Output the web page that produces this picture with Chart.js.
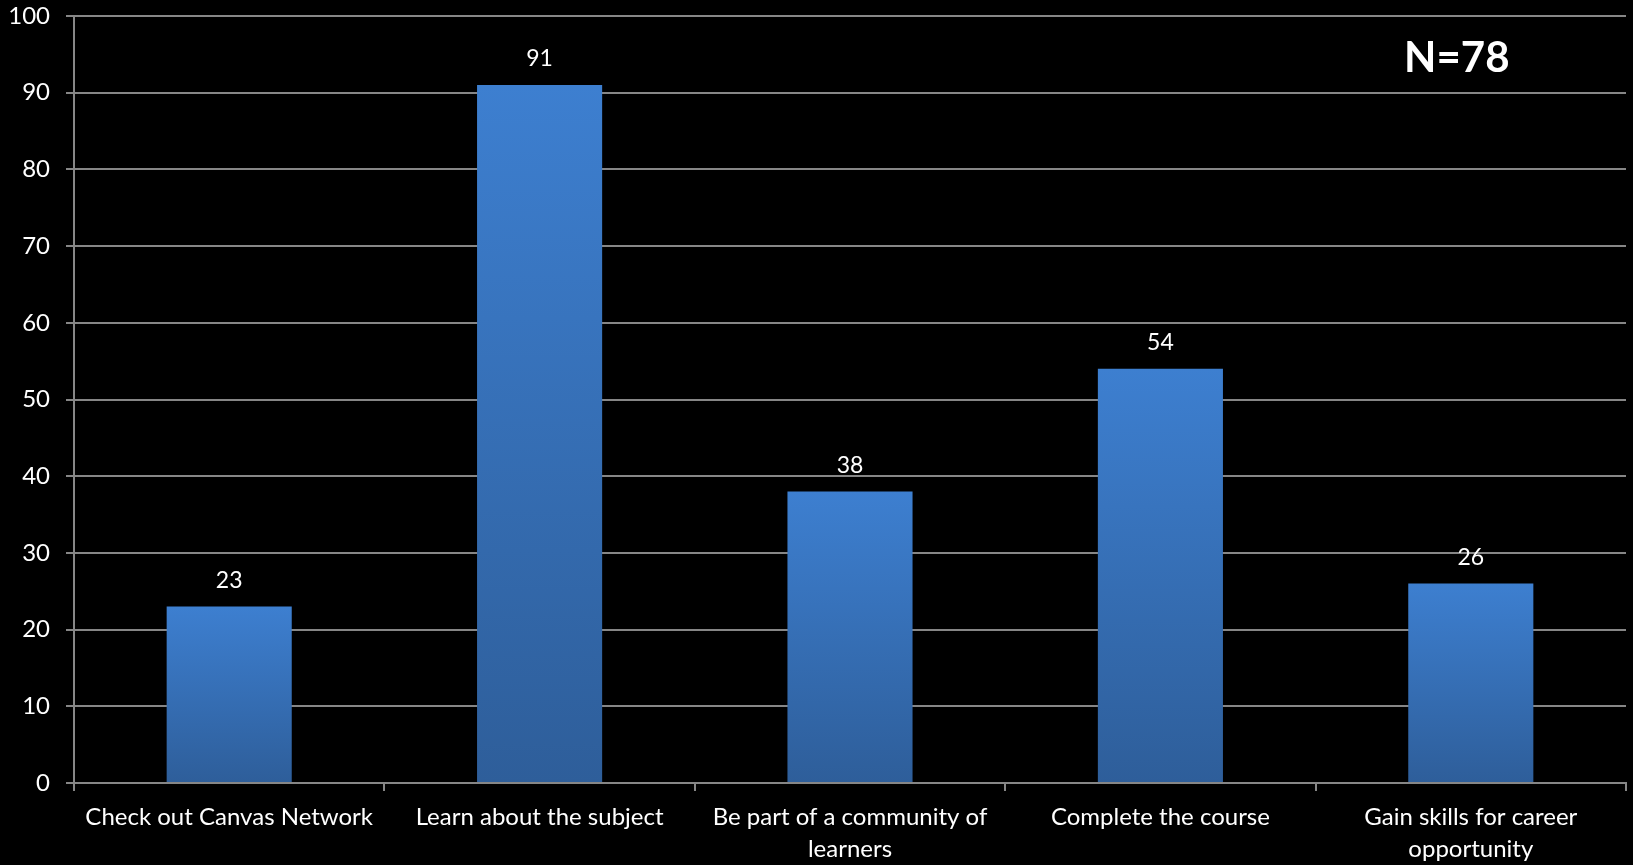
<!DOCTYPE html>
<html>
<head>
<meta charset="utf-8">
<script src="https://cdn.jsdelivr.net/npm/chart.js@4/dist/chart.umd.min.js"></script>
<style>
html,body{margin:0;padding:0;background:#000;}
#wrap{width:1633px;height:865px;position:relative;}
</style>
</head>
<body>
<div id="wrap"><canvas id="c" width="1633" height="865"></canvas></div>
<script>
const categories = [
  "Check out Canvas Network",
  "Learn about the subject",
  ["Be part of a community of", "learners"],
  "Complete the course",
  ["Gain skills for career", "opportunity"]
];
const values = [23, 91, 38, 54, 26];
const yTicks = [0, 10, 20, 30, 40, 50, 60, 70, 80, 90, 100];
const annotationText = "N=78";

const FONT = "Lato, 'Noto Sans', sans-serif";
const GRID = "#868686";

function barGradient(ctx) {
  const chart = ctx.chart;
  if (!chart.chartArea || ctx.type !== 'data') return "#3a76c2";
  const y = chart.scales.y;
  const top = y.getPixelForValue(ctx.raw);
  const bot = y.getPixelForValue(0);
  const g = chart.ctx.createLinearGradient(0, top, 0, bot);
  g.addColorStop(0, "rgb(61,127,208)");
  g.addColorStop(1, "rgb(46,94,154)");
  return g;
}

const labelPlugin = {
  id: 'valueLabels',
  afterDatasetsDraw(chart) {
    const c = chart.ctx;
    const meta = chart.getDatasetMeta(0);
    c.save();
    c.fillStyle = "#ffffff";
    c.font = "23px " + FONT;
    c.textAlign = "center";
    c.textBaseline = "middle";
    meta.data.forEach((bar, i) => {
      c.fillText(String(values[i]), bar.x, bar.y - 26);
    });
    const a = chart.chartArea;
    c.font = "bold 42px " + FONT;
    c.fillText(annotationText, a.left + (a.right - a.left) * 0.891, a.top + 42);
    c.restore();
  }
};

new Chart(document.getElementById('c'), {
  type: 'bar',
  data: {
    labels: categories,
    datasets: [{
      data: values,
      backgroundColor: barGradient,
      borderWidth: 0,
      barPercentage: 0.403,
      categoryPercentage: 1.0
    }]
  },
  options: {
    responsive: false,
    animation: false,
    layout: { padding: { top: 16, right: 7, left: 0, bottom: 0 } },
    plugins: { legend: { display: false }, tooltip: { enabled: false } },
    scales: {
      x: {
        grid: { display: true, drawOnChartArea: false, drawTicks: true, tickLength: 8, offset: true, color: GRID, lineWidth: 2 },
        border: { display: true, color: GRID, width: 2 },
        ticks: { color: "#ffffff", font: { family: FONT, size: 24, lineHeight: 1.35 }, padding: 10, maxRotation: 0, autoSkip: false },
        afterFit(scale) { scale.height = 82; scale.paddingLeft = 0; scale.paddingRight = 0; }
      },
      y: {
        min: 0, max: 100,
        afterBuildTicks(scale) { scale.ticks = yTicks.map(v => ({ value: v })); },
        grid: { display: true, drawTicks: true, tickLength: 8, color: GRID, lineWidth: 2 },
        border: { display: true, color: GRID, width: 2 },
        ticks: { color: "#ffffff", font: { family: FONT, size: 24 }, padding: 16 },
        afterFit(scale) { scale.width = 74; scale.paddingTop = 0; scale.paddingBottom = 0; }
      }
    }
  },
  plugins: [labelPlugin]
});
</script>
</body>
</html>
